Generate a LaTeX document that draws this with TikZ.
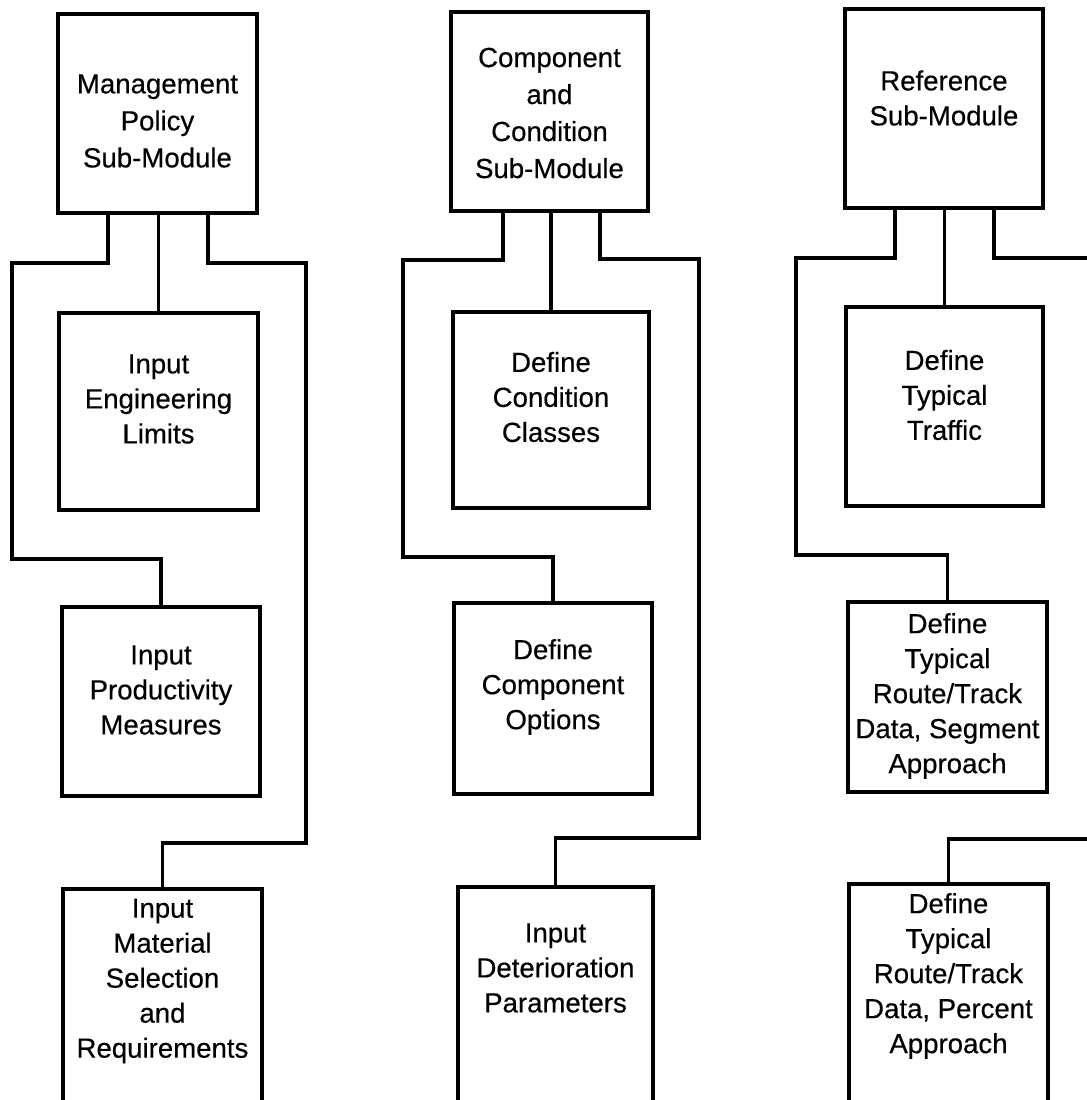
\documentclass[tikz,border=0pt]{standalone}
\usepackage{fontspec}
\setmainfont{Liberation Sans}
\newfontfamily\lblfont[FakeBold=0.4]{Liberation Sans}
\usetikzlibrary{fit}
\begin{document}
\begin{tikzpicture}[x=0.5pt,y=-0.5pt,
  box/.style={draw, line width=1.8pt, inner sep=0pt, rectangle},
  lbl/.style={align=center, inner sep=0pt, font=\lblfont\fontsize{13.8}{17.5}\selectfont},
  toplbl/.style={align=center, inner sep=0pt, font=\lblfont\fontsize{13.8}{18.5}\selectfont},
  link/.style={line width=1.6pt, line join=miter}]
\useasboundingbox (0,0) rectangle (1087,1100);
\begin{scope}
\clip (0,0) rectangle (1087,1100);

% ---- boxes: management policy column
\node[box, fit={(58,14) (257,213)}]   (mp)  {};
\node[box, fit={(59,313) (258,510)}]  (el)  {};
\node[box, fit={(62,607) (260,796)}]  (ipm) {};
\node[box, fit={(63,889) (262,1130)}] (ims) {};
% ---- boxes: component and condition column
\node[box, fit={(451,12) (648,211)}]  (cc)  {};
\node[box, fit={(453,312) (649,508)}] (dcc) {};
\node[box, fit={(454,603) (652,794)}] (dco) {};
\node[box, fit={(458,887) (653,1130)}] (idp) {};
% ---- boxes: reference column
\node[box, fit={(845,9) (1043,208)}]   (ref) {};
\node[box, fit={(846,307) (1043,506)}] (dtt) {};
\node[box, fit={(848,602) (1047,792)}] (seg) {};
\node[box, fit={(849,884) (1048,1130)}] (pct) {};

% ---- labels
\node[toplbl] (mpT)  at (157.5,121) {Management\\Policy\\Sub-Module};
\node[toplbl] (ccT)  at (549.5,113) {Component\\and\\Condition\\Sub-Module};
\node[lbl]    (refT) at (944,98)    {Reference\\Sub-Module};
\node[lbl]    (elT)  at (158.5,399) {Input\\Engineering\\Limits};
\node[lbl]    (dccT) at (551,397)   {Define\\Condition\\Classes};
\node[lbl]    (dttT) at (944.5,395) {Define\\Typical\\Traffic};
\node[lbl]    (ipmT) at (161,690)   {Input\\Productivity\\Measures};
\node[lbl]    (dcoT) at (553,687)   {Define\\Component\\Options};
\node[lbl]    (segT) at (947.5,696) {Define\\Typical\\Route/Track\\Data, Segment\\Approach};
\node[lbl]    (imsT) at (162.5,981) {Input\\Material\\Selection\\and\\Requirements};
\node[lbl]    (idpT) at (555.5,968) {Input\\Deterioration\\Parameters};
\node[lbl]    (pctT) at (948.5,976) {Define\\Typical\\Route/Track\\Data, Percent\\Approach};

% ---- connectors: management policy column
\coordinate (c1a) at (108,263); \coordinate (c1b) at (12,263);
\coordinate (c1c) at (12,559);
\draw[link] (mp.south -| c1a) -- (c1a) -- (c1b) -- (c1c) -- (ipm.north |- c1c) -- (ipm.north);
\draw[link] (el.north |- mp.south) -- (el.north);
\coordinate (c1e) at (208,263); \coordinate (c1f) at (306,263);
\coordinate (c1g) at (306,843);
\draw[link] (mp.south -| c1e) -- (c1e) -- (c1f) -- (c1g) -- (ims.north |- c1g) -- (ims.north);

% ---- connectors: component and condition column
\coordinate (c2a) at (503,260); \coordinate (c2b) at (403,260);
\coordinate (c2c) at (403,557);
\draw[link] (cc.south -| c2a) -- (c2a) -- (c2b) -- (c2c) -- (dco.north |- c2c) -- (dco.north);
\draw[link] (dcc.north |- cc.south) -- (dcc.north);
\coordinate (c2e) at (600,259); \coordinate (c2f) at (699,259);
\coordinate (c2g) at (699,838);
\draw[link] (cc.south -| c2e) -- (c2e) -- (c2f) -- (c2g) -- (idp.north |- c2g) -- (idp.north);

% ---- connectors: reference column
\coordinate (c3a) at (895,258); \coordinate (c3b) at (796,258);
\coordinate (c3c) at (796,555);
\draw[link] (ref.south -| c3a) -- (c3a) -- (c3b) -- (c3c) -- (seg.north |- c3c) -- (seg.north);
\draw[link] (dtt.north |- ref.south) -- (dtt.north);
\coordinate (c3e) at (994,258); \coordinate (c3f) at (1110,258);
\draw[link] (ref.south -| c3e) -- (c3e) -- (c3f);
\coordinate (c3g) at (1110,839);
\draw[link] (c3g) -- (pct.north |- c3g) -- (pct.north);
\end{scope}
\end{tikzpicture}
\end{document}
